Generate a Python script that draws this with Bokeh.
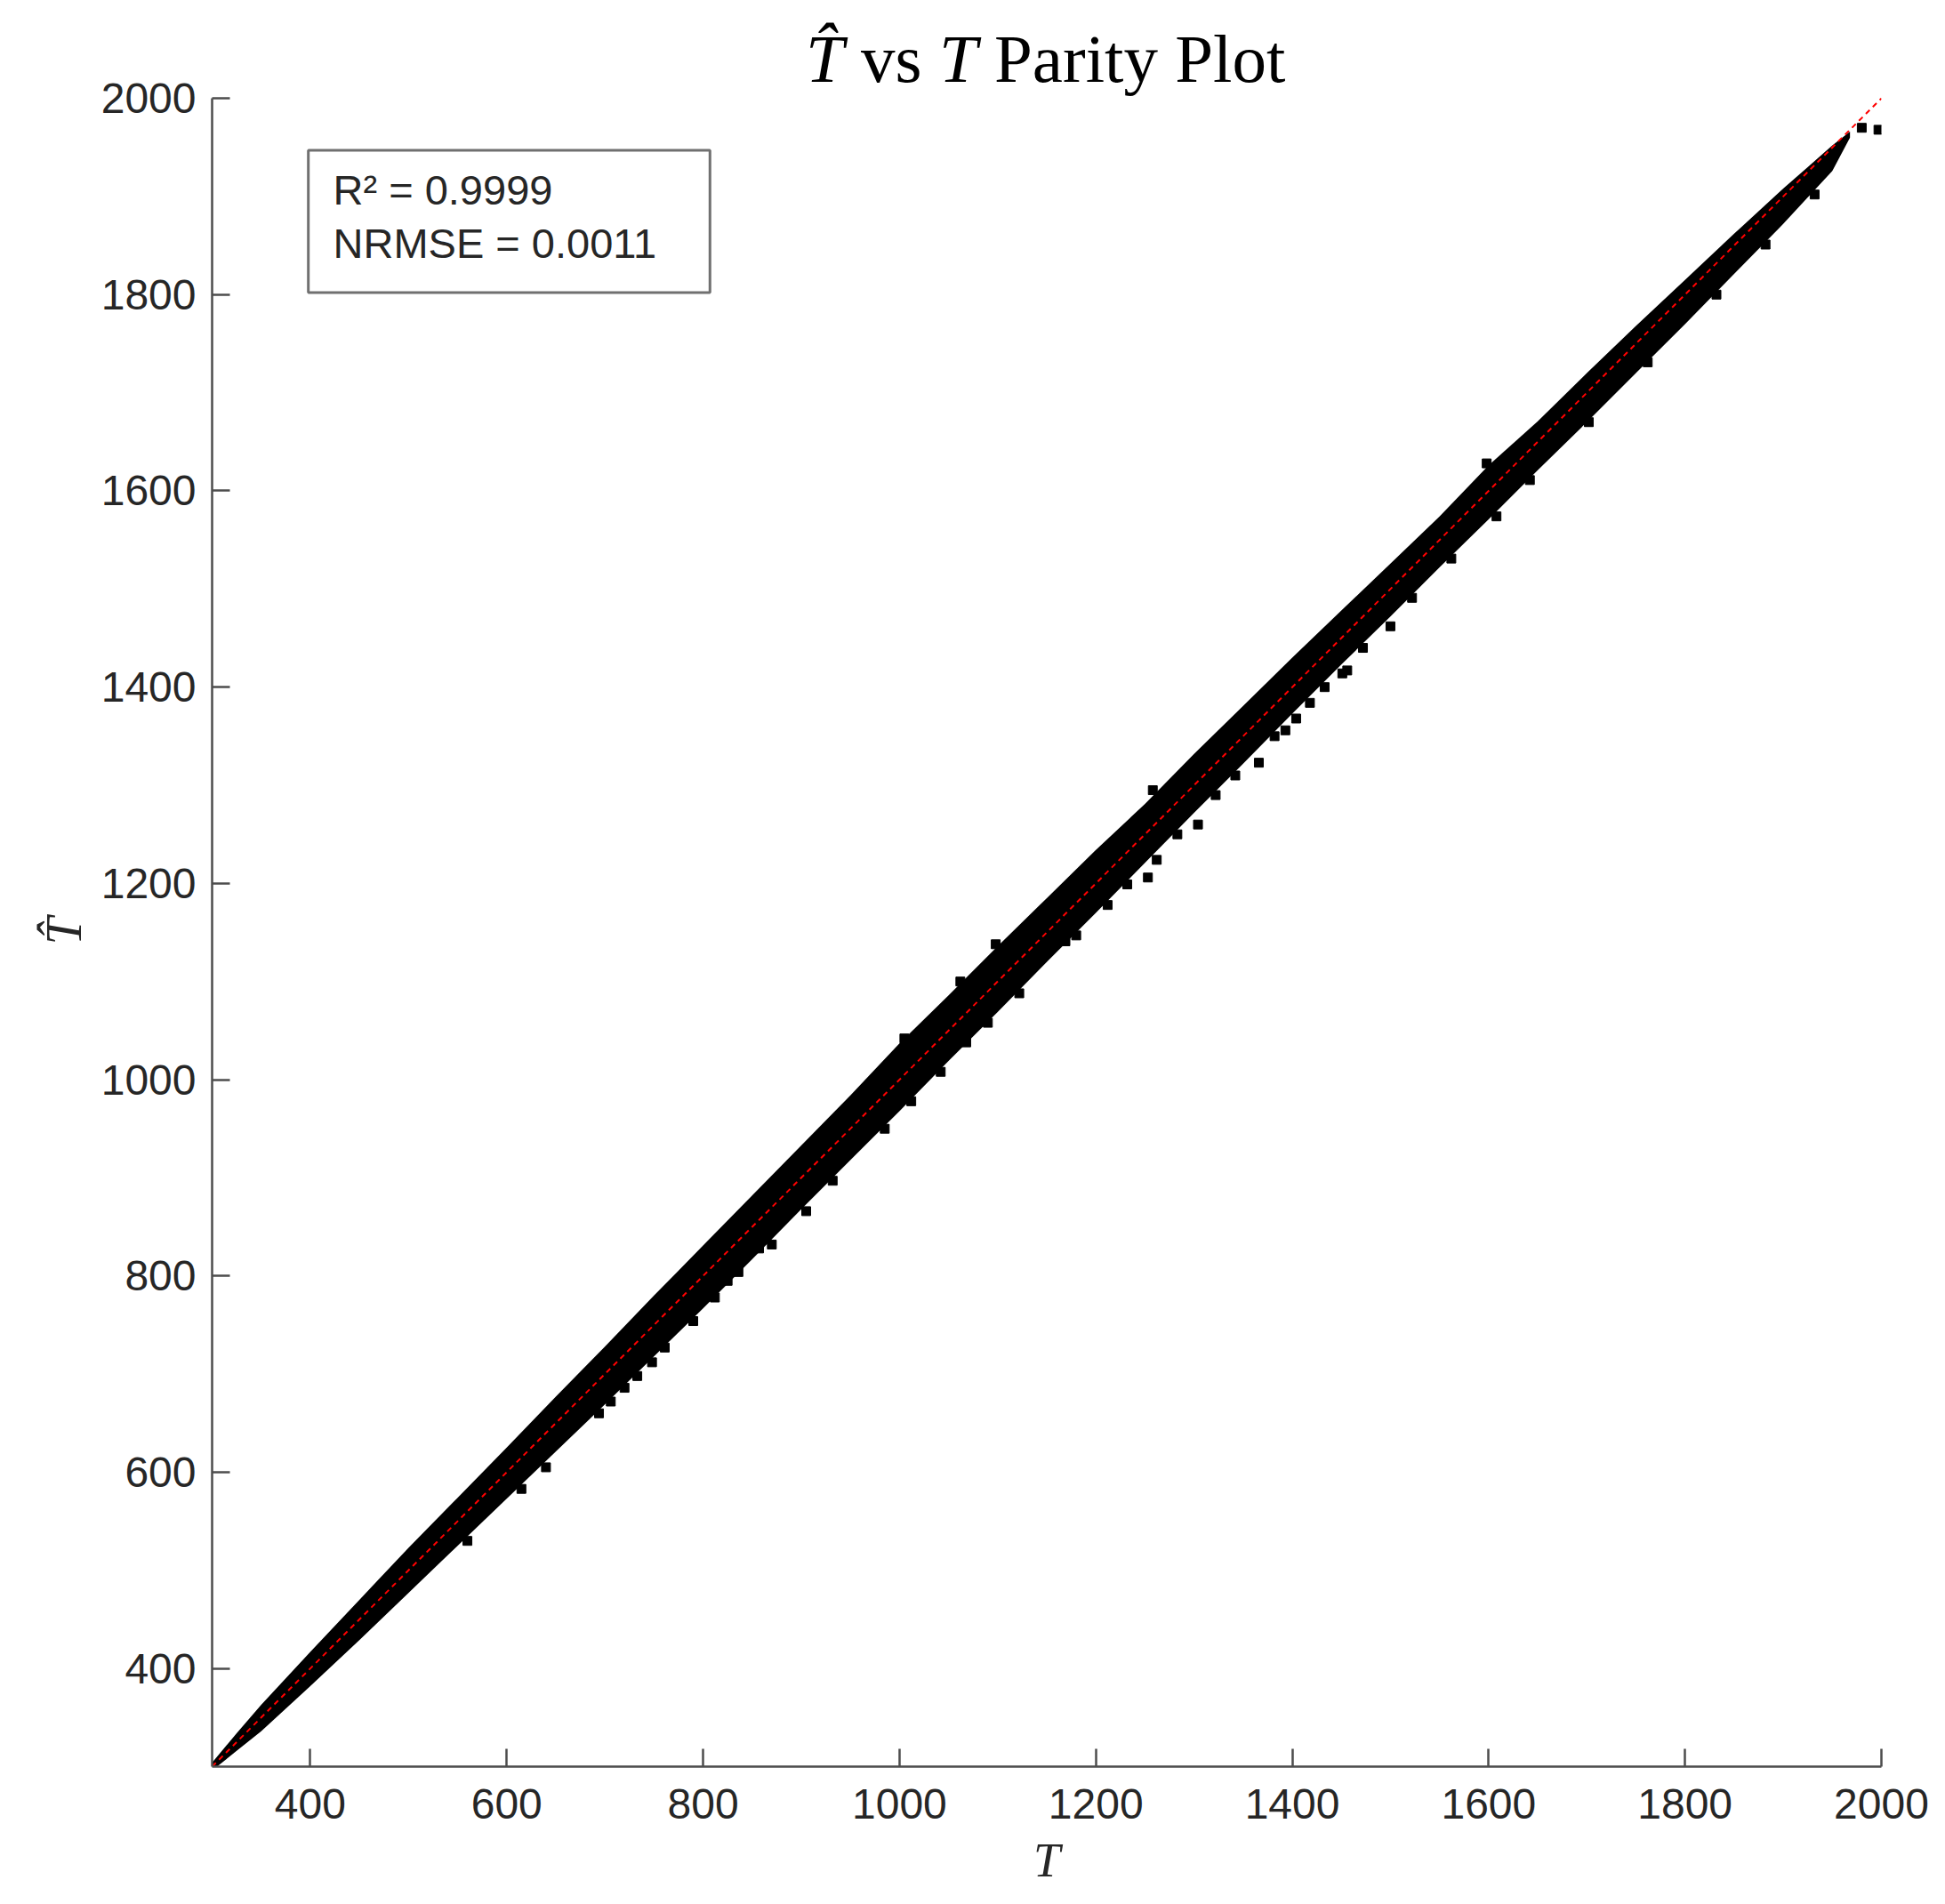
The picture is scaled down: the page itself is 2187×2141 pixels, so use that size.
from bokeh.plotting import figure
from bokeh.models import Range1d, FixedTicker, Label, BoxAnnotation, Title
from bokeh.embed import file_html
from bokeh.resources import INLINE

# ---- data ----
band_T = [300, 325, 350, 400, 450, 500, 550, 600, 650, 700, 750, 800, 850, 900,
          950, 1000, 1050, 1100, 1150, 1200, 1250, 1300, 1350, 1400, 1450, 1500,
          1550, 1600, 1650, 1700, 1750, 1800, 1850, 1900, 1950, 1968]
band_hi = [304, 334, 363, 417, 470, 523, 574, 625, 677, 728, 780, 831, 882, 933,
           984, 1037, 1086, 1136, 1185, 1234, 1281, 1332, 1381, 1430, 1478, 1526,
           1574, 1626, 1671, 1720, 1768, 1815, 1862, 1908, 1952, 1966]
band_lo = [296, 316, 336, 382, 429, 477, 525, 573, 621, 669, 718, 767, 817, 868,
           918, 968, 1019, 1069, 1120, 1170, 1221, 1272, 1322, 1373, 1423, 1472,
           1522, 1571, 1621, 1670, 1720, 1770, 1821, 1872, 1926, 1960]
# points sticking out of the dense band
edge_T = [560, 615, 640, 706, 733, 748, 790, 812, 870, 905, 932, 985, 1012, 1042,
          1090, 1122, 1180, 1212, 1232, 1283, 1322, 1342, 1382, 1433, 1472, 1522,
          1562, 1642, 1702, 1762, 1832, 1882, 1932,
          1005, 1062, 1098, 1258, 1598]
edge_That = [530, 583, 605, 672, 698, 712, 754, 778, 832, 866, 897, 950, 978, 1008,
             1058, 1088, 1147, 1178, 1199, 1250, 1290, 1310, 1350, 1400, 1440, 1491,
             1531, 1611, 1670, 1731, 1800, 1851, 1902,
             1042, 1100, 1138, 1295, 1628]
outlier_T = [694, 720, 761, 825, 836, 857, 1068, 1169, 1253, 1262, 1304, 1366,
             1393, 1404, 1418, 1451, 1456, 1500, 1608, 1980, 1997]
outlier_That = [660, 686, 727, 795, 804, 828, 1038, 1141, 1206, 1224, 1260, 1323,
                1356, 1368, 1384, 1414, 1417, 1462, 1574, 1970, 1968]
parity = [300, 2000]
tick_values = [400, 600, 800, 1000, 1200, 1400, 1600, 1800, 2000]
r2_text = "R\u00b2 = 0.9999"
nrmse_text = "NRMSE = 0.0011"
x_label = "T"
y_label = "T\u0302"
title_pieces = ["T\u0302", "vs", "T", "Parity Plot"]

AX = "#4d4d4d"
TXT = "#262626"

# the frame reaches above T-hat = 2000 so that the title can sit inside it;
# the visible y axis is bounded to 300..2000
p = figure(frame_width=1877, frame_height=1976,
           x_range=Range1d(300, 2000), y_range=Range1d(300, 2090.7),
           output_backend="svg", toolbar_location=None,
           min_border_left=238, min_border_right=60,
           min_border_top=10, min_border_bottom=140,
           background_fill_color="white", border_fill_color="white")
p.outline_line_color = None
p.grid.visible = False
p.yaxis.bounds = (300, 2000)

for ax in (p.xaxis, p.yaxis):
    ax.ticker = FixedTicker(ticks=tick_values)
    ax.axis_line_color = AX
    ax.axis_line_width = 2.5
    ax.major_tick_line_color = AX
    ax.major_tick_line_width = 2.5
    ax.major_tick_in = 20
    ax.major_tick_out = 0
    ax.minor_tick_in = 0
    ax.minor_tick_out = 0
    ax.major_label_text_font = "Liberation Sans"
    ax.major_label_text_font_size = "48px"
    ax.major_label_text_color = TXT

p.xaxis.major_label_standoff = 25
p.yaxis.major_label_standoff = 18
p.xaxis.axis_label = x_label
p.xaxis.axis_label_text_font = "Liberation Serif"
p.xaxis.axis_label_text_font_style = "italic"
p.xaxis.axis_label_text_color = TXT
p.xaxis.axis_label_text_font_size = "54px"
p.xaxis.axis_label_standoff = 14

# y label as a side title so it can be centred on the 300..2000 span
p.add_layout(Title(text=y_label, align="left", offset=924, standoff=16,
                   text_font="Liberation Serif", text_font_style="italic",
                   text_font_size="56px", text_color=TXT), "left")

# dense band of predictions
p.varea(x=band_T, y1=band_lo, y2=band_hi, fill_color="black")
p.scatter(edge_T, edge_That, marker="square", size=10, color="black")
p.scatter(outlier_T, outlier_That, marker="square", size=10, color="black")
# parity line
p.line(parity, parity, line_color="red", line_width=2, line_dash="6 5")

# statistics box
p.add_layout(BoxAnnotation(left=398, right=807, top=1947, bottom=1802,
                           fill_color="white", fill_alpha=1.0,
                           line_color="#707070", line_alpha=1.0, line_width=3))
for txt, dy in ((r2_text, -103), (nrmse_text, -163)):
    p.add_layout(Label(x=300, y=2000, x_offset=136, y_offset=dy, text=txt,
                       text_font="Liberation Sans", text_font_size="47px",
                       text_color=TXT, text_align="left", text_baseline="middle"))

# title composed of pieces (italic symbols, upright words)
for txt, style, dx in zip(title_pieces, ["italic", "normal", "italic", "normal"],
                          [-271, -209, -121, -59]):
    p.add_layout(Label(x=1150, y=2000, x_offset=dx, y_offset=45, text=txt,
                       text_font="Liberation Serif", text_font_style=style,
                       text_font_size="77px", text_color="#000000",
                       text_align="left", text_baseline="middle"))

open("out.html", "w").write(file_html(p, INLINE))
